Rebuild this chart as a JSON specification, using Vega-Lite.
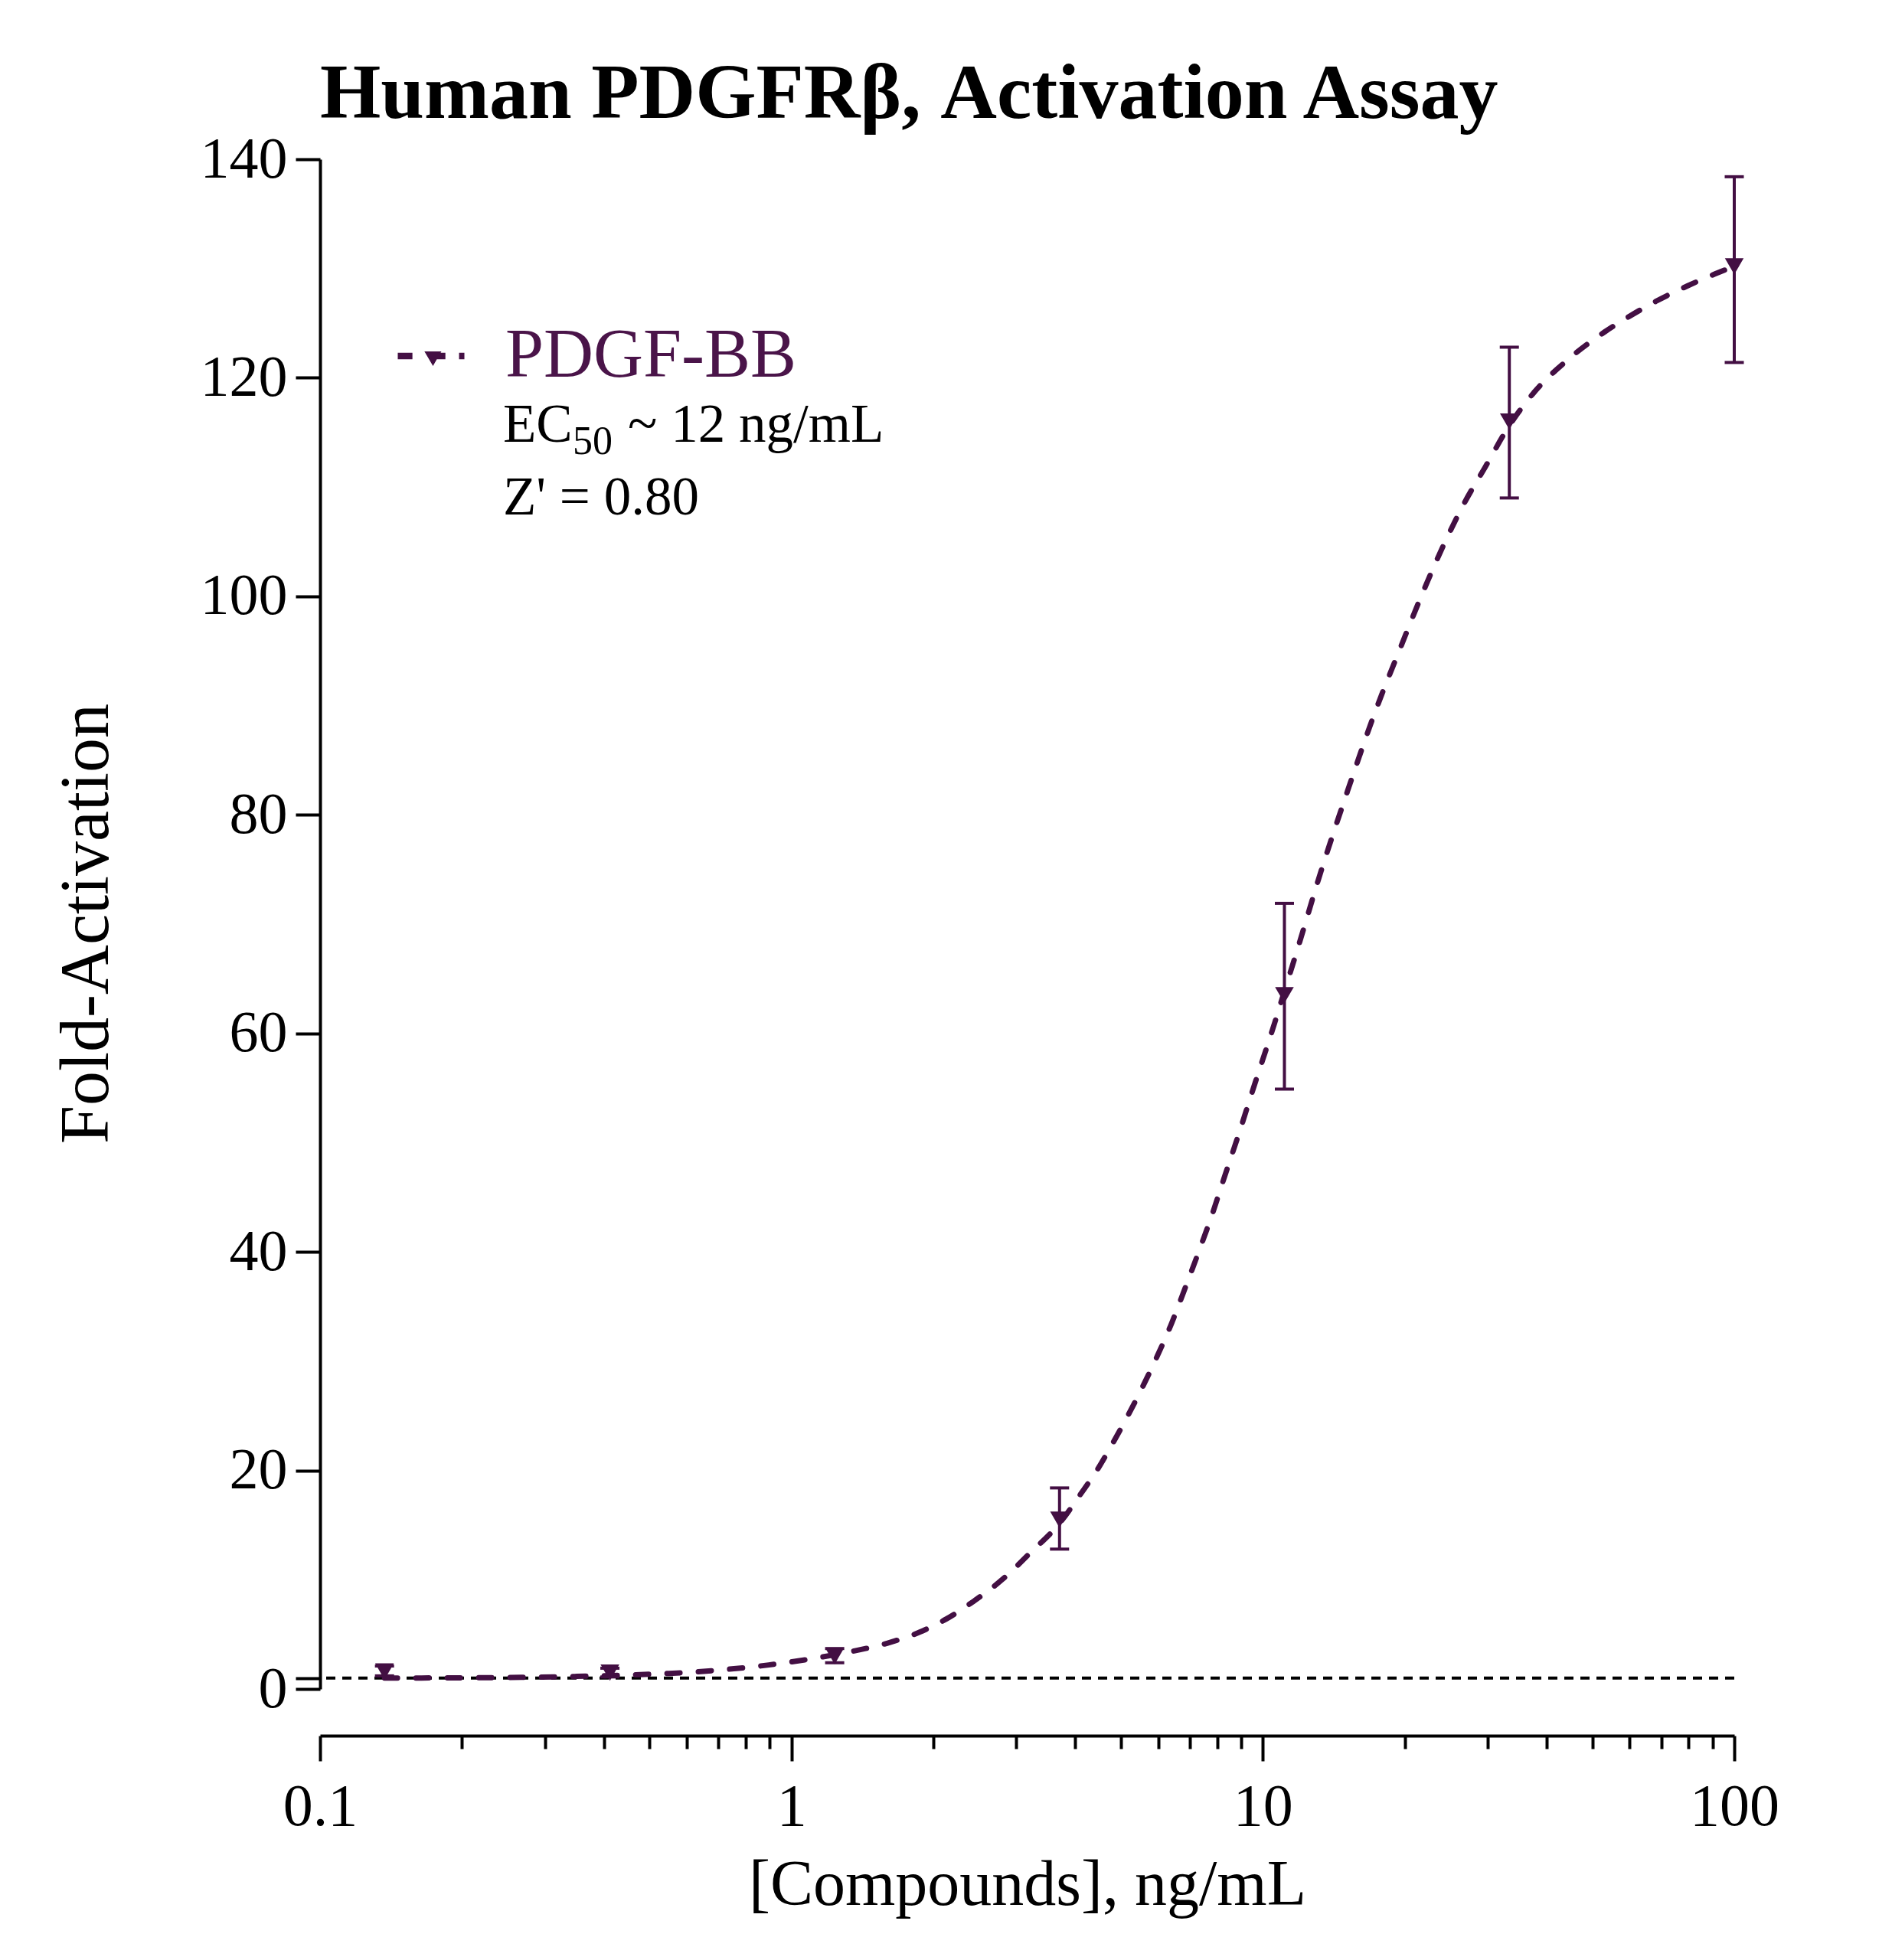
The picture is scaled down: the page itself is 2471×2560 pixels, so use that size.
{
  "$schema": "https://vega.github.io/schema/vega-lite/v6.json",
  "width": 1847,
  "height": 1998,
  "autosize": {"type": "none"},
  "padding": {"left": 418, "top": 208, "right": 206, "bottom": 354},
  "background": "white",
  "title": {
    "text": "Human PDGFRβ, Activation Assay",
    "font": "Liberation Serif",
    "fontSize": 102,
    "fontWeight": "bold",
    "color": "black",
    "anchor": "start",
    "frame": "group",
    "baseline": "alphabetic",
    "offset": 57,
    "dy": 143
  },
  "datasets": {
    "fit": [
      {"conc": 0.137, "fold": 1.0}, {"conc": 0.2, "fold": 1.02}, {"conc": 0.267, "fold": 1.06},
      {"conc": 0.35, "fold": 1.15}, {"conc": 0.45, "fold": 1.28}, {"conc": 0.55, "fold": 1.42},
      {"conc": 0.689, "fold": 1.7}, {"conc": 0.895, "fold": 2.2}, {"conc": 1.08, "fold": 2.7},
      {"conc": 1.33, "fold": 3.4}, {"conc": 1.6, "fold": 4.2}, {"conc": 1.87, "fold": 5.2},
      {"conc": 2.13, "fold": 6.4}, {"conc": 2.43, "fold": 8.0}, {"conc": 2.85, "fold": 10.3},
      {"conc": 3.2, "fold": 12.4}, {"conc": 3.71, "fold": 15.2}, {"conc": 4.1, "fold": 17.8},
      {"conc": 4.46, "fold": 20.1}, {"conc": 4.79, "fold": 22.4}, {"conc": 5.17, "fold": 25.0},
      {"conc": 5.55, "fold": 27.6}, {"conc": 5.96, "fold": 30.4}, {"conc": 6.31, "fold": 32.8},
      {"conc": 6.87, "fold": 36.9}, {"conc": 7.38, "fold": 40.5}, {"conc": 7.83, "fold": 43.6},
      {"conc": 8.28, "fold": 46.8}, {"conc": 8.89, "fold": 50.8}, {"conc": 9.55, "fold": 55.0},
      {"conc": 10.6, "fold": 61.0}, {"conc": 11.1, "fold": 63.8}, {"conc": 11.9, "fold": 68.0},
      {"conc": 13.1, "fold": 74.0}, {"conc": 15.1, "fold": 82.1}, {"conc": 17.4, "fold": 89.7},
      {"conc": 19.5, "fold": 95.1}, {"conc": 21.2, "fold": 99.0}, {"conc": 23.1, "fold": 102.8},
      {"conc": 26.8, "fold": 108.6}, {"conc": 29.6, "fold": 111.8}, {"conc": 33.3, "fold": 115.6},
      {"conc": 37.5, "fold": 118.6}, {"conc": 44.2, "fold": 121.6}, {"conc": 53.1, "fold": 124.2},
      {"conc": 59.8, "fold": 125.6}, {"conc": 68.2, "fold": 127.0}, {"conc": 79.5, "fold": 128.4},
      {"conc": 91, "fold": 129.5}, {"conc": 100, "fold": 130.2}
    ],
    "points": [
      {"series": "PDGF-BB", "conc": 0.137, "mean": 1.6, "lo": 1.2, "hi": 2.1},
      {"series": "PDGF-BB", "conc": 0.412, "mean": 1.5, "lo": 1.1, "hi": 1.9},
      {"series": "PDGF-BB", "conc": 1.235, "mean": 3.0, "lo": 2.4, "hi": 3.7},
      {"series": "PDGF-BB", "conc": 3.704, "mean": 15.5, "lo": 12.8, "hi": 18.4},
      {"series": "PDGF-BB", "conc": 11.11, "mean": 63.5, "lo": 54.9, "hi": 71.9},
      {"series": "PDGF-BB", "conc": 33.33, "mean": 116.0, "lo": 109.0, "hi": 122.8},
      {"series": "PDGF-BB", "conc": 100, "mean": 130.2, "lo": 121.4, "hi": 138.4}
    ],
    "notes": [
      {"part": "main", "x": 0.2444, "y": 114.15, "text": "EC"},
      {"part": "sub", "x": 0.3436, "y": 113.0, "text": "50"},
      {"part": "main", "x": 0.4498, "y": 114.15, "text": "~ 12 ng/mL"},
      {"part": "main", "x": 0.2444, "y": 107.5, "text": "Z' = 0.80"}
    ]
  },
  "layer": [
    {
      "data": {"values": [{"fold": 1}]},
      "mark": {"type": "rule", "color": "black", "strokeWidth": 4, "strokeDash": [12, 9]},
      "encoding": {
        "y": {
          "field": "fold",
          "type": "quantitative",
          "title": "Fold-Activation",
          "scale": {"domain": [0, 140], "nice": false},
          "axis": {
            "values": [0, 1, 20, 40, 60, 80, 100, 120, 140],
            "labelExpr": "datum.value == 1 ? '' : datum.label",
            "grid": false,
            "domainColor": "black",
            "domainWidth": 4,
            "tickColor": "black",
            "tickWidth": 4,
            "tickSize": 32,
            "labelFont": "Liberation Serif",
            "labelFontSize": 76,
            "labelColor": "black",
            "labelPadding": 11,
            "labelOverlap": false,
            "titleFont": "Liberation Serif",
            "titleFontSize": 90,
            "titleFontWeight": "normal",
            "titleColor": "black",
            "titleAngle": -90,
            "titleAlign": "center",
            "titleBaseline": "alphabetic",
            "titleX": -278,
            "titleY": 998
          }
        }
      }
    },
    {
      "data": {"name": "fit"},
      "mark": {"type": "line", "color": "#430f43", "strokeWidth": 7, "strokeDash": [17, 24], "strokeCap": "round", "interpolate": "monotone"},
      "encoding": {
        "x": {"field": "conc", "type": "quantitative", "scale": {"type": "log", "domain": [0.1, 100], "nice": false}, "axis": null},
        "y": {"field": "fold", "type": "quantitative", "title": "Fold-Activation"}
      }
    },
    {
      "data": {"name": "points"},
      "mark": {
        "type": "errorbar",
        "color": "#430f43",
        "opacity": 1,
        "rule": {"strokeWidth": 4, "opacity": 1},
        "ticks": {"size": 25, "thickness": 4, "opacity": 1}
      },
      "encoding": {
        "x": {
          "field": "conc",
          "type": "quantitative",
          "axis": {
            "orient": "bottom",
            "offset": 61,
            "values": [0.2, 0.3, 0.4, 0.5, 0.6, 0.7, 0.8, 0.9, 2, 3, 4, 5, 6, 7, 8, 9, 20, 30, 40, 50, 60, 70, 80, 90],
            "domain": false,
            "labels": false,
            "grid": false,
            "tickColor": "black",
            "tickWidth": 4,
            "tickSize": 17,
            "title": null
          }
        },
        "y": {"field": "lo", "type": "quantitative", "title": "Fold-Activation"},
        "y2": {"field": "hi"}
      }
    },
    {
      "data": {"name": "points"},
      "mark": {"type": "point", "shape": "triangle-down", "filled": true, "size": 600, "opacity": 1, "strokeWidth": 0},
      "encoding": {
        "x": {
          "field": "conc",
          "type": "quantitative",
          "title": "[Compounds], ng/mL",
          "axis": {
            "orient": "bottom",
            "offset": 61,
            "values": [0.1, 1, 10, 100],
            "format": "~g",
            "grid": false,
            "domainColor": "black",
            "domainWidth": 4,
            "tickColor": "black",
            "tickWidth": 4,
            "tickSize": 33,
            "labelFont": "Liberation Serif",
            "labelFontSize": 78,
            "labelColor": "black",
            "labelBaseline": "alphabetic",
            "labelPadding": 83,
            "labelFlush": false,
            "labelOverlap": false,
            "titleFont": "Liberation Serif",
            "titleFontSize": 84,
            "titleFontWeight": "normal",
            "titleColor": "black",
            "titleBaseline": "alphabetic",
            "titleY": 220
          }
        },
        "y": {"field": "mean", "type": "quantitative", "title": "Fold-Activation"},
        "color": {
          "field": "series",
          "type": "nominal",
          "scale": {"range": ["#430f43"]},
          "legend": {
            "orient": "none",
            "legendX": 100,
            "legendY": 212,
            "title": null,
            "padding": 0,
            "symbolType": "M-1,-0.095H-0.56V0.095H-1Z M-0.2,-0.14L0.31,-0.14L0.057,0.3Z M0.1,-0.095H0.43V0.095H0.1Z M0.84,-0.095H1V0.095H0.84Z",
            "symbolSize": 7569,
            "symbolStrokeWidth": 0,
            "symbolFillColor": "#430f43",
            "symbolOpacity": 1,
            "labelFont": "Liberation Serif",
            "labelFontSize": 90,
            "labelColor": "#4a1449",
            "labelOffset": 52,
            "labelLimit": 0
          }
        }
      }
    },
    {
      "data": {"name": "notes"},
      "transform": [{"filter": "datum.part == 'main'"}],
      "mark": {"type": "text", "font": "Liberation Serif", "fontSize": 71, "color": "black", "align": "left", "baseline": "alphabetic"},
      "encoding": {
        "x": {"field": "x", "type": "quantitative", "axis": null},
        "y": {"field": "y", "type": "quantitative", "title": "Fold-Activation"},
        "text": {"field": "text"}
      }
    },
    {
      "data": {"name": "notes"},
      "transform": [{"filter": "datum.part == 'sub'"}],
      "mark": {"type": "text", "font": "Liberation Serif", "fontSize": 52, "color": "black", "align": "left", "baseline": "alphabetic"},
      "encoding": {
        "x": {"field": "x", "type": "quantitative", "axis": null},
        "y": {"field": "y", "type": "quantitative", "title": "Fold-Activation"},
        "text": {"field": "text"}
      }
    }
  ],
  "resolve": {"axis": {"x": "independent"}},
  "config": {
    "view": {"stroke": null},
    "axis": {"grid": false}
  }
}
